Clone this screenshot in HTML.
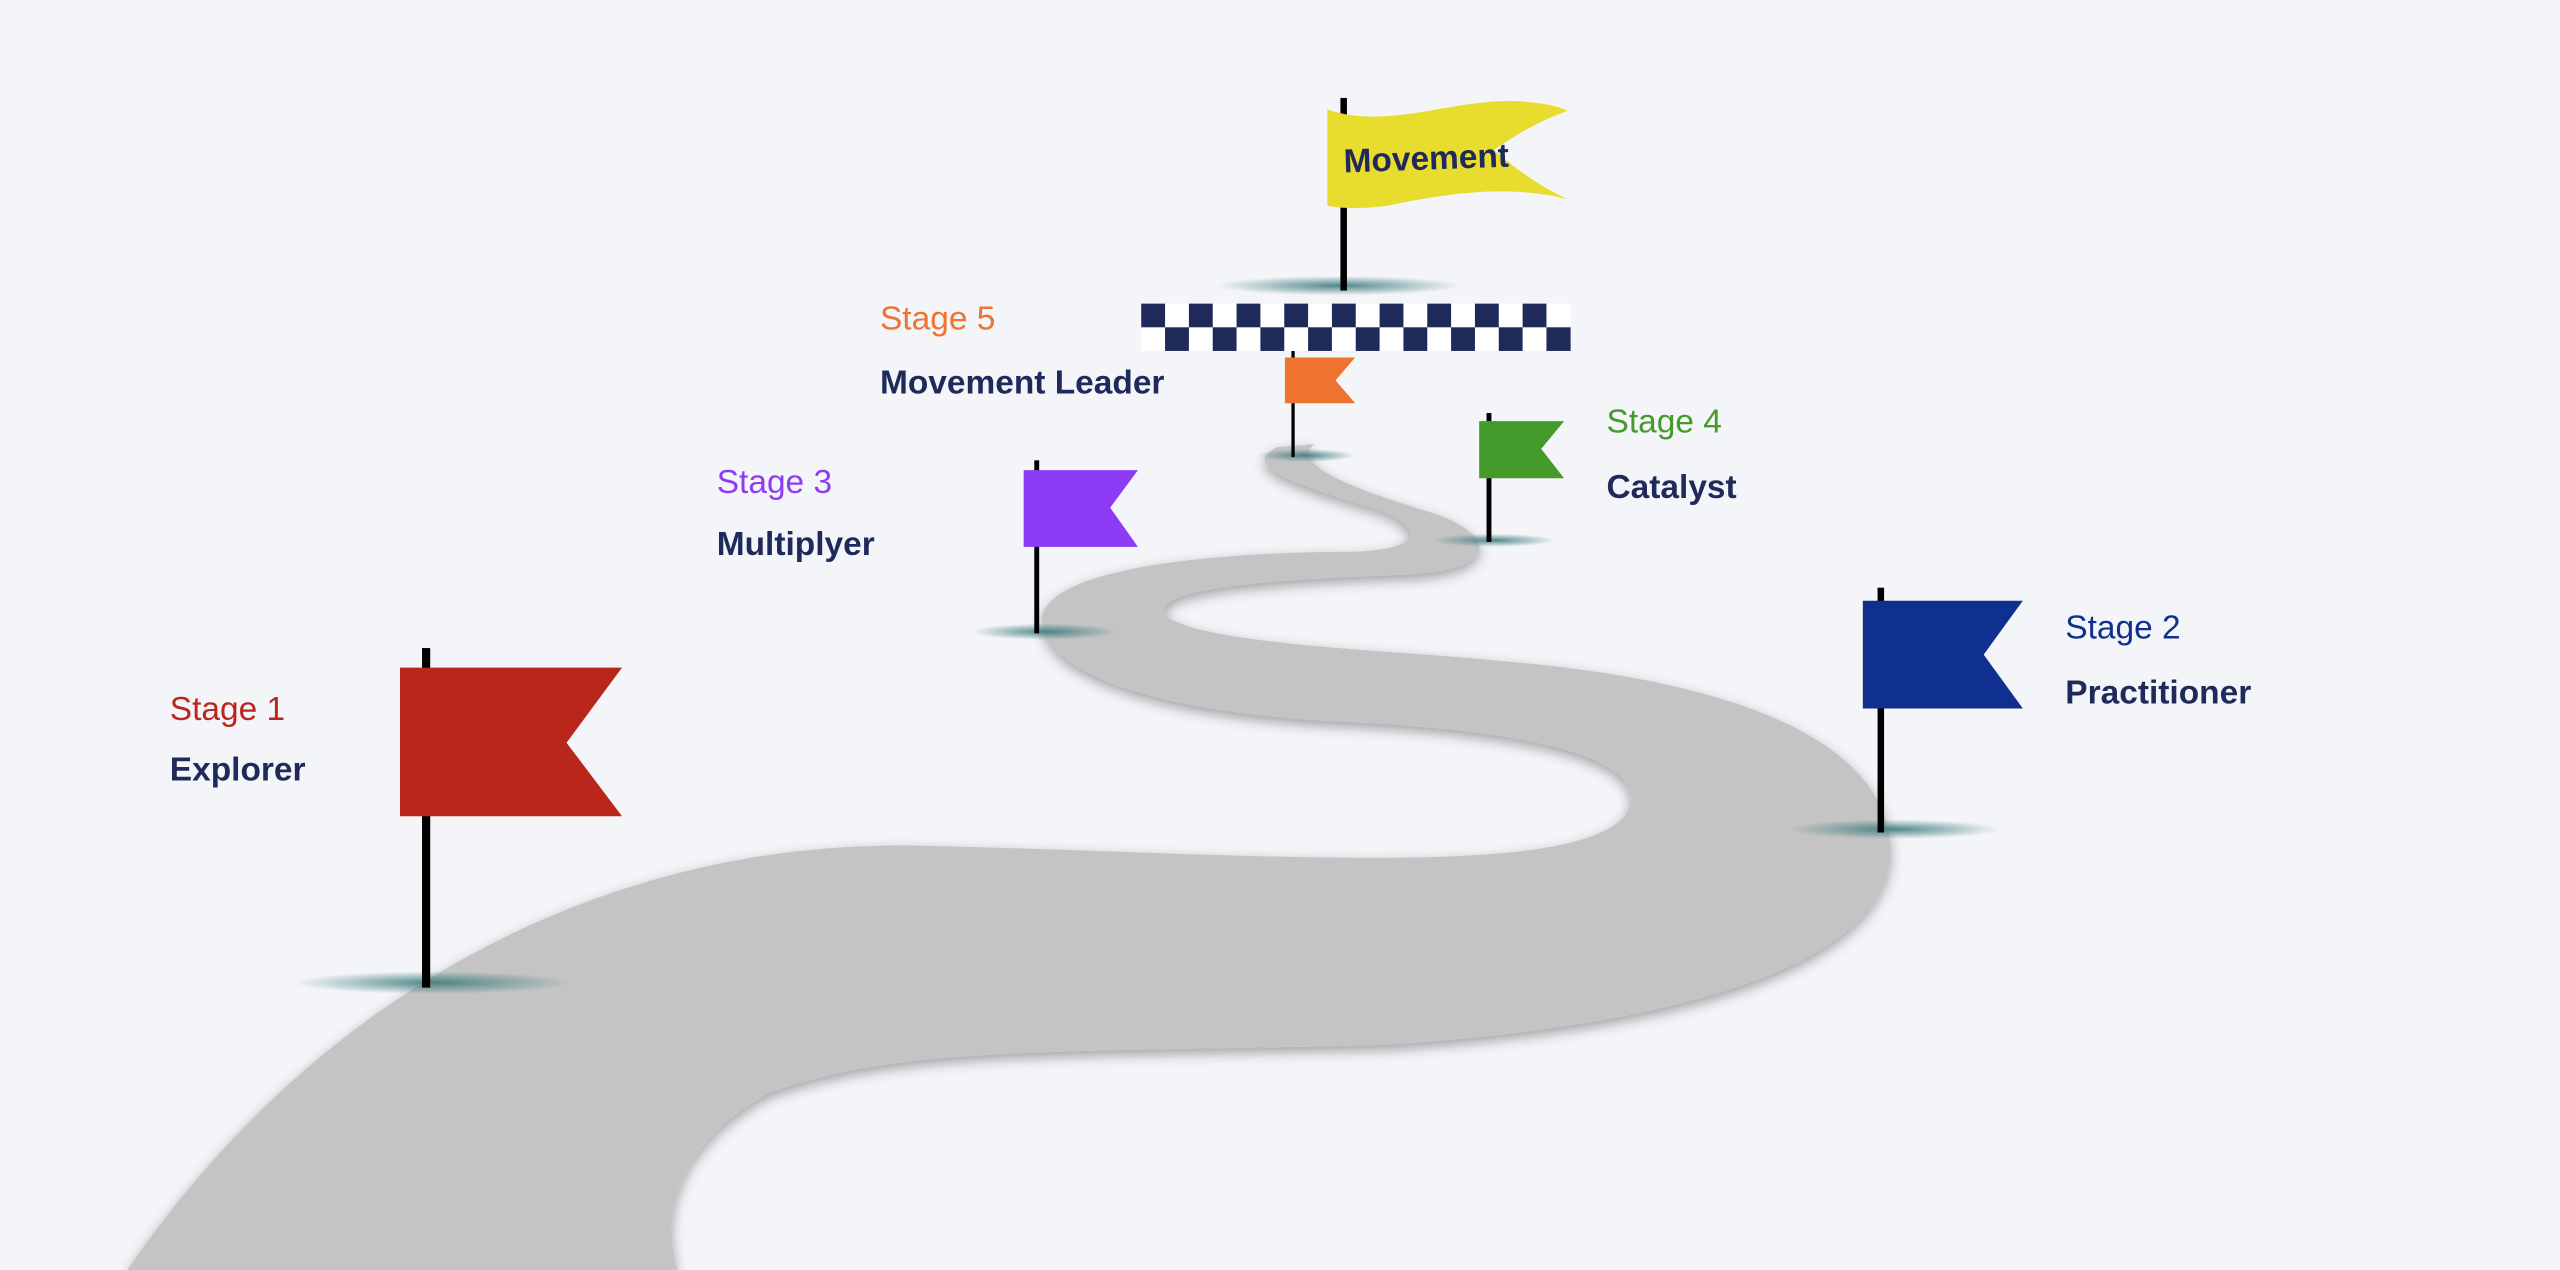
<!DOCTYPE html>
<html><head><meta charset="utf-8"><style>
html,body{margin:0;padding:0;background:#f4f5f9;}
svg{display:block;}
text{font-family:"Liberation Sans",sans-serif;font-size:20.5px;}
.d{fill:#1f2a5a;font-weight:bold;}
</style></head><body>
<svg width="2560" height="1270" viewBox="0 0 1568 778" preserveAspectRatio="none">
<defs>
<filter id="sh" x="-10%" y="-10%" width="120%" height="120%"><feGaussianBlur in="SourceAlpha" stdDeviation="4"/><feOffset dx="0" dy="3"/><feComponentTransfer><feFuncA type="linear" slope="0.35"/></feComponentTransfer><feMerge><feMergeNode/><feMergeNode in="SourceGraphic"/></feMerge></filter>
<radialGradient id="g"><stop offset="0" stop-color="#3f7c7c" stop-opacity="0.9"/><stop offset="1" stop-color="#3f7c7c" stop-opacity="0"/></radialGradient>
</defs>
<rect width="1568" height="778" fill="#f4f5f9"/>
<path filter="url(#sh)" fill="#c4c4c4" d="M78,778 C200,600 380,515 560,518 C760,522 960,540 995,500 C1015,470 960,448 820,442 C700,436 640,410 638,380 C640,345 760,338 830,338 C880,336 870,318 830,308 C790,295 760,285 782,274 L805,272 C790,285 830,300 880,315 C920,330 915,350 860,352 C780,355 700,360 715,378 C740,395 850,398 920,405 C1100,420 1160,470 1158,525 C1150,600 1000,630 850,640 C650,645 550,640 470,670 C400,710 410,760 415,778 Z"/>
<ellipse cx="265" cy="602" rx="85" ry="7" fill="url(#g)"/>
<ellipse cx="1160" cy="508" rx="65" ry="6" fill="url(#g)"/>
<ellipse cx="640" cy="387" rx="45" ry="5" fill="url(#g)"/>
<ellipse cx="915" cy="331" rx="38" ry="4" fill="url(#g)"/>
<ellipse cx="800" cy="279" rx="30" ry="4" fill="url(#g)"/>
<ellipse cx="820" cy="175" rx="75" ry="6" fill="url(#g)"/>
<rect x="699" y="186" width="263" height="29" fill="#fff"/>
<g fill="#1f2a5a">
<rect x="699" y="186" width="14.6" height="14.5"/><rect x="728.2" y="186" width="14.6" height="14.5"/><rect x="757.4" y="186" width="14.6" height="14.5"/><rect x="786.6" y="186" width="14.6" height="14.5"/><rect x="815.8" y="186" width="14.6" height="14.5"/><rect x="845" y="186" width="14.6" height="14.5"/><rect x="874.2" y="186" width="14.6" height="14.5"/><rect x="903.4" y="186" width="14.6" height="14.5"/><rect x="932.6" y="186" width="14.6" height="14.5"/>
<rect x="713.6" y="200.5" width="14.6" height="14.5"/><rect x="742.8" y="200.5" width="14.6" height="14.5"/><rect x="772" y="200.5" width="14.6" height="14.5"/><rect x="801.2" y="200.5" width="14.6" height="14.5"/><rect x="830.4" y="200.5" width="14.6" height="14.5"/><rect x="859.6" y="200.5" width="14.6" height="14.5"/><rect x="888.8" y="200.5" width="14.6" height="14.5"/><rect x="918" y="200.5" width="14.6" height="14.5"/><rect x="947.2" y="200.5" width="14.8" height="14.5"/>
</g>
<g fill="#000">
<rect x="258.5" y="397" width="5" height="208"/>
<rect x="1150" y="360" width="4" height="150"/>
<rect x="633.5" y="282" width="3" height="106"/>
<rect x="910.5" y="253" width="3" height="79"/>
<rect x="791" y="215" width="2" height="65"/>
<rect x="821" y="60" width="4" height="118"/>
</g>
<polygon fill="#b9261b" points="245,409 381,409 347,455 381,500 245,500"/>
<polygon fill="#10308f" points="1141,368 1239,368 1215,401 1239,434 1141,434"/>
<polygon fill="#8e3bf5" points="627,288 697,288 680,311 697,335 627,335"/>
<polygon fill="#459a2c" points="906,258 958,258 944,275 958,293 906,293"/>
<polygon fill="#ee7230" points="787,219 830,219 818,233 830,247 787,247"/>
<path fill="#e8dc2e" d="M813,67 C850,80 890,60 930,62 C945,63 955,65 960,68 C940,75 925,85 915,92 C930,105 945,115 960,122 C920,112 880,120 850,126 C835,128 822,128 813,126 Z"/>
<text x="823" y="104" class="d" font-size="18" transform="rotate(-2 870 100)">Movement</text>
<text x="104" y="441" fill="#b9261b">Stage 1</text>
<text x="104" y="478" class="d">Explorer</text>
<text x="1265" y="391" fill="#10308f">Stage 2</text>
<text x="1265" y="431" class="d">Practitioner</text>
<text x="439" y="302" fill="#8e3bf5">Stage 3</text>
<text x="439" y="340" class="d">Multiplyer</text>
<text x="984" y="265" fill="#459a2c">Stage 4</text>
<text x="984" y="305" class="d">Catalyst</text>
<text x="539" y="202" fill="#ee7230">Stage 5</text>
<text x="539" y="241" class="d">Movement Leader</text>
</svg>
</body></html>
